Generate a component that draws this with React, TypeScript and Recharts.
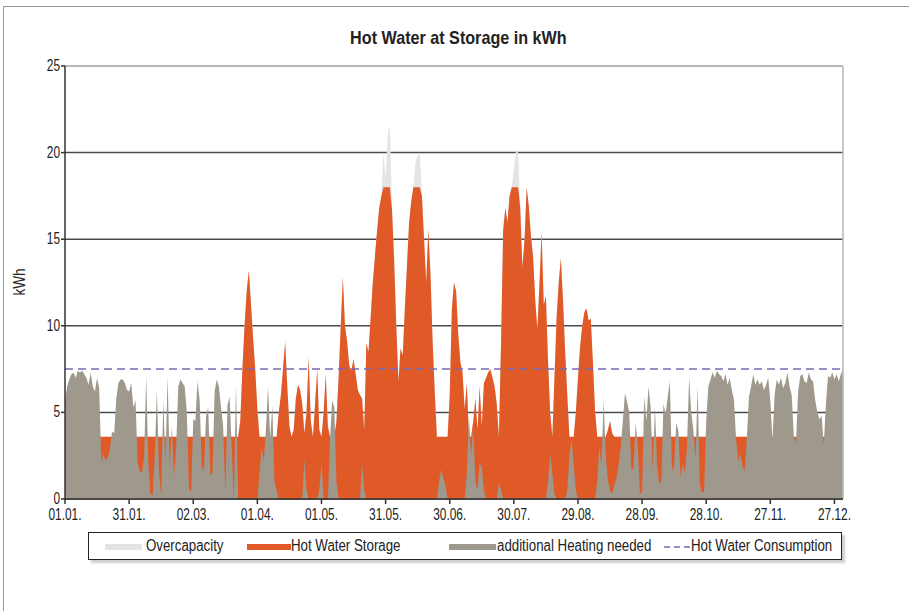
import React from 'react';
import { ComposedChart, Area, Line, XAxis, YAxis, CartesianGrid, ReferenceLine } from 'recharts';

// day-of-year ticks and their labels
const tickDays = [0, 30, 60, 90, 120, 150, 180, 210, 240, 270, 300, 330, 360];
const tickLabels = ['01.01.', '31.01.', '02.03.', '01.04.', '01.05.', '31.05.', '30.06.', '30.07.', '29.08.', '28.09.', '28.10.', '27.11.', '27.12.'];
const yTicks = [0, 5, 10, 15, 20, 25];

// additional heating needed per day (kWh), day 0 = 01.01.
const heating = [
  5.7, 6.5, 6.9, 7.2, 7.3, 7.0, 7.4, 7.3, 7.4, 7.2,
  7.0, 6.6, 7.3, 6.5, 6.2, 7.0, 6.4, 2.1, 2.6, 2.2,
  2.4, 2.9, 3.9, 3.8, 5.8, 6.7, 6.9, 6.9, 6.7, 6.3,
  6.2, 6.7, 5.3, 5.7, 2.1, 1.6, 1.5, 2.4, 7.1, 2.0,
  0.3, 0.2, 2.5, 6.3, 1.5, 0.2, 5.7, 2.1, 7.1, 1.8,
  4.2, 1.3, 3.0, 6.5, 6.9, 6.7, 6.5, 5.0, 0.6, 0.4,
  4.6, 4.5, 6.8, 5.7, 1.8, 1.7, 4.8, 5.3, 1.4, 1.5,
  6.2, 6.9, 6.5, 5.3, 4.2, 0.3, 5.4, 5.9, 3.0, 0.0,
  6.6, 0, 0, 0, 0, 0, 0, 0, 0, 0,
  0, 1.5, 3.0, 2.2, 4.0, 6.5, 3.5, 5.4, 1.0, 0.5,
  0, 0, 0, 0, 0, 0, 0, 0, 0, 0,
  0, 0, 2.3, 0.5, 0, 0, 0, 0, 0, 0.5,
  2.1, 0, 0, 0, 3.5, 5.7, 5.3, 1.0, 0, 0,
  0, 0, 0, 0, 0, 0, 0, 0, 0, 2.0,
  0.5, 0, 0, 0, 0, 0, 0, 0, 0, 0,
  0, 0, 0, 0, 0, 0, 0, 0, 0, 0,
  0, 0, 0, 0, 0, 0, 0, 0, 0, 0,
  0, 0, 0, 0, 0, 1.0, 1.7, 1.2, 0.8, 0,
  0, 0, 0, 0, 0, 0, 0, 0, 1.5, 4.7,
  2.5, 4.2, 1.0, 0.5, 2.1, 1.8, 0.5, 0, 0, 0,
  0, 0, 0, 0.9, 0.5, 0, 0, 0, 0, 0,
  0, 0, 0, 0, 0, 0, 0, 0, 0, 0,
  0, 0, 0, 0, 0, 0, 1.0, 2.6, 1.5, 0.3,
  0, 0, 0, 0, 0, 0.5, 2.5, 3.4, 2.0, 0.5,
  0, 0, 0, 0, 0, 0, 0, 0, 0, 1.0,
  3.0, 2.0, 5.7, 2.5, 1.1, 0.5, 0.3, 0.8, 1.2, 2.0,
  3.0, 4.5, 6.1, 5.6, 5.0, 1.6, 1.8, 4.4, 3.0, 0.3,
  0.4, 5.9, 4.5, 6.5, 5.3, 1.6, 5.3, 2.0, 0.9, 1.0,
  5.5, 4.9, 5.9, 6.8, 1.6, 2.0, 4.4, 3.9, 1.3, 2.0,
  1.5, 3.0, 7.0, 5.0, 4.0, 2.3, 6.5, 0.8, 0.4, 0.4,
  4.5, 6.5, 6.9, 7.3, 7.0, 7.4, 7.2, 7.1, 6.8, 7.2,
  6.6, 7.0, 6.3, 5.7, 3.4, 2.2, 2.6, 1.9, 1.6, 3.5,
  5.9, 6.5, 7.2, 6.6, 6.9, 6.6, 6.8, 6.3, 6.6, 7.0,
  5.7, 3.4, 6.0, 6.9, 6.6, 7.0, 6.4, 6.7, 7.3, 6.5,
  6.0, 3.6, 3.2, 6.2, 7.1, 7.2, 6.8, 6.7, 7.3, 6.9,
  6.8, 5.7, 5.0, 4.6, 4.8, 3.1, 5.5, 7.1, 7.0, 7.3,
  6.9, 7.2, 6.8, 7.2, 7.5,
];

// hot water in storage per day (kWh)
const storage = [
  3.6, 3.6, 3.6, 3.6, 3.6, 3.6, 3.6, 3.6, 3.6, 3.6,
  3.6, 3.6, 3.6, 3.6, 3.6, 3.6, 3.6, 3.6, 3.6, 3.6,
  3.6, 3.6, 3.6, 3.6, 3.6, 3.6, 3.6, 3.6, 3.6, 3.6,
  3.6, 3.6, 3.6, 3.6, 3.6, 3.6, 3.6, 3.6, 3.6, 3.6,
  3.6, 3.6, 3.6, 3.6, 3.6, 3.6, 3.6, 3.6, 3.6, 3.6,
  3.6, 3.6, 3.6, 3.6, 3.6, 3.6, 3.6, 3.6, 3.6, 3.6,
  3.6, 3.6, 3.6, 3.6, 3.6, 3.6, 3.6, 3.6, 3.6, 3.6,
  3.6, 3.6, 3.6, 3.6, 3.6, 3.6, 3.6, 3.6, 3.6, 3.6,
  3.6, 3.6, 4.5, 7.5, 10.0, 12.0, 13.2, 11.3, 9.3, 7.5,
  5.2, 3.6, 3.6, 3.6, 3.6, 3.6, 3.6, 3.6, 3.6, 3.6,
  5.0, 6.0, 7.5, 9.1, 6.5, 4.2, 3.6, 4.0, 5.8, 6.6,
  6.3, 5.5, 3.8, 5.0, 8.2, 4.5, 3.6, 5.5, 7.5, 4.0,
  3.6, 5.0, 7.2, 4.2, 3.6, 3.6, 3.6, 4.5, 7.0, 10.0,
  12.8, 10.0, 9.1, 7.7, 7.4, 8.1, 7.2, 6.3, 6.0, 5.8,
  4.0, 9.0, 8.5, 10.5, 12.5, 14.0, 15.5, 16.8, 17.5, 18.0,
  18.0, 18.0, 18.0, 16.7, 13.8, 10.0, 6.8, 8.7, 8.3, 11.0,
  13.5, 16.0, 17.2, 18.0, 18.0, 18.0, 18.0, 17.5, 15.0, 12.5,
  15.6, 13.0, 9.1, 6.2, 3.6, 3.6, 3.6, 3.6, 3.6, 3.6,
  6.0, 11.0, 12.5, 12.0, 9.5, 7.9, 7.3, 5.2, 6.7, 3.6,
  3.6, 4.5, 5.8, 4.0, 6.5, 4.2, 6.7, 7.0, 7.3, 7.5,
  7.0, 6.5, 5.5, 3.6, 9.0, 15.5, 16.8, 16.0, 17.5, 18.0,
  18.0, 18.0, 18.0, 16.8, 13.4, 15.0, 18.0, 16.9, 15.2, 14.0,
  11.5, 9.8, 12.5, 15.4, 11.2, 11.7, 8.0, 5.0, 3.6, 7.0,
  10.5, 12.5, 13.9, 11.5, 8.5, 6.0, 3.6, 3.6, 3.6, 5.0,
  7.0, 8.8, 10.0, 10.8, 11.0, 10.3, 10.4, 7.9, 5.1, 3.6,
  3.6, 3.6, 3.6, 3.6, 4.0, 4.5, 3.8, 3.6, 3.6, 3.6,
  3.6, 3.6, 3.6, 3.6, 3.6, 3.6, 3.6, 3.6, 3.6, 3.6,
  3.6, 3.6, 3.6, 3.6, 3.6, 3.6, 3.6, 3.6, 3.6, 3.6,
  3.6, 3.6, 3.6, 3.6, 3.6, 3.6, 3.6, 3.6, 3.6, 3.6,
  3.6, 3.6, 3.6, 3.6, 3.6, 3.6, 3.6, 3.6, 3.6, 3.6,
  3.6, 3.6, 3.6, 3.6, 3.6, 3.6, 3.6, 3.6, 3.6, 3.6,
  3.6, 3.6, 3.6, 3.6, 3.6, 3.6, 3.6, 3.6, 3.6, 3.6,
  3.6, 3.6, 3.6, 3.6, 3.6, 3.6, 3.6, 3.6, 3.6, 3.6,
  3.6, 3.6, 3.6, 3.6, 3.6, 3.6, 3.6, 3.6, 3.6, 3.6,
  3.6, 3.6, 3.6, 3.6, 3.6, 3.6, 3.6, 3.6, 3.6, 3.6,
  3.6, 3.6, 3.6, 3.6, 3.6, 3.6, 3.6, 3.6, 3.6, 3.6,
  3.6, 3.6, 3.6, 3.6, 3.6,
];

// days where the produced heat exceeds the storage cap: [day, kWh]
const overcapacityPeaks: [number, number][] = [
  [149, 20.0], [150, 18.5], [151, 21.0], [152, 21.6],
  [164, 19.5], [165, 19.8], [166, 20.0],
  [210, 19.0], [211, 20.1], [212, 20.0],
];

const consumptionLevel = 7.5;

const peakMap = new Map(overcapacityPeaks);
const data = storage.map((s, day) => ({
  day,
  over: peakMap.get(day) ?? s,
  storage: s,
  heating: heating[day],
  consumption: consumptionLevel,
}));

const FONT = '"Liberation Sans", Arial, sans-serif';
const ORANGE = '#e05a28';
const GREY = '#9f988c';
const LIGHT = '#e4e4e4';
const PURPLE = '#7868b4';

// condensed look: the original uses a narrow DIN-like face
const XTick = (props: any) => {
  const { x, y, payload } = props;
  return (
    <g transform={`translate(${x},${y})`}>
      <text x={0} y={0} dy={14} textAnchor="middle" transform="scale(0.7,1)" fill="#222" fontSize={17} fontFamily={FONT}>
        {tickLabels[tickDays.indexOf(payload.value)]}
      </text>
    </g>
  );
};

const YTick = (props: any) => {
  const { x, y, payload } = props;
  return (
    <g transform={`translate(${x},${y})`}>
      <text x={0} y={0} dy={5} textAnchor="end" transform="scale(0.7,1)" fill="#222" fontSize={17} fontFamily={FONT}>
        {payload.value}
      </text>
    </g>
  );
};

const LegendSwatch = ({ left, width, color }: { left: number; width: number; color: string }) => (
  <div style={{ position: 'absolute', left, top: 11, width, height: 6, background: color }} />
);

const LegendText = ({ left, text }: { left: number; text: string }) => (
  <div style={{ position: 'absolute', left, top: 4, fontSize: 16, lineHeight: '18px', color: '#222', whiteSpace: 'nowrap', transform: 'scaleX(0.83)', transformOrigin: 'left center' }}>{text}</div>
);

const App: React.FC = () => {
  return (
    <div style={{ position: 'absolute', left: 0, top: 0, width: 909, height: 611, background: '#fff', overflow: 'hidden', fontFamily: FONT }}>
      <div style={{ position: 'absolute', left: 3, top: 6, width: 1000, height: 1000, borderTop: '1px solid #999', borderLeft: '1px solid #999' }} />
      <div style={{ position: 'absolute', left: 0, top: 27, width: 916, textAlign: 'center' }}>
        <span style={{ display: 'inline-block', fontWeight: 'bold', fontSize: 19, color: '#222', transform: 'scaleX(0.85)' }}>
          Hot Water at Storage in kWh
        </span>
      </div>
      <div style={{ position: 'absolute', left: 20, top: 282, transform: 'translate(-50%, -50%) rotate(-90deg) scaleX(0.85)', fontSize: 16, color: '#222' }}>
        kWh
      </div>
      <div style={{ position: 'absolute', left: 0, top: 0 }}>
        <ComposedChart width={909} height={611} data={data} margin={{ top: 66, right: 66, bottom: 82, left: 0 }}>
          <CartesianGrid vertical={false} stroke="#4a4a4a" strokeWidth={1.5} />
          <XAxis
            type="number"
            dataKey="day"
            domain={[0, 364]}
            ticks={tickDays}
            interval={0}
            height={30}
            stroke="#333"
            strokeWidth={1.5}
            tickSize={5}
            tickMargin={2}
            tick={<XTick />}
          />
          <YAxis
            type="number"
            domain={[0, 25]}
            ticks={yTicks}
            interval={0}
            width={65}
            stroke="#333"
            strokeWidth={1.5}
            tickSize={4}
            tickMargin={1}
            tick={<YTick />}
          />
          <Area dataKey="over" type="linear" fill={LIGHT} fillOpacity={1} stroke="none" dot={false} activeDot={false} isAnimationActive={false} />
          <Area dataKey="storage" type="linear" fill={ORANGE} fillOpacity={1} stroke="none" dot={false} activeDot={false} isAnimationActive={false} />
          <Area dataKey="heating" type="linear" fill={GREY} fillOpacity={1} stroke="none" dot={false} activeDot={false} isAnimationActive={false} />
          <Line dataKey="consumption" type="linear" stroke={PURPLE} strokeWidth={1.5} strokeDasharray="8 5" dot={false} activeDot={false} isAnimationActive={false} />
          <ReferenceLine y={25} stroke="#b8b8b8" strokeWidth={2} />
          <ReferenceLine x={364} stroke="#b8b8b8" strokeWidth={1.5} />
        </ComposedChart>
      </div>
      <div style={{ position: 'absolute', left: 88, top: 532, width: 752, height: 26, border: '1.5px solid #222', boxShadow: '3px 3px 2px #cfcfcf', background: '#fff' }}>
        <LegendSwatch left={16} width={37} color={LIGHT} />
        <LegendText left={57} text="Overcapacity" />
        <LegendSwatch left={158} width={44} color={ORANGE} />
        <LegendText left={202} text="Hot Water Storage" />
        <LegendSwatch left={360} width={47} color={GREY} />
        <LegendText left={408} text="additional Heating needed" />
        <svg style={{ position: 'absolute', left: 575, top: 9 }} width={27} height={10}>
          <line x1={0} y1={5} x2={27} y2={5} stroke={PURPLE} strokeWidth={1.5} strokeDasharray="6 4" />
        </svg>
        <LegendText left={602} text="Hot Water Consumption" />
      </div>
    </div>
  );
};

export default App;
